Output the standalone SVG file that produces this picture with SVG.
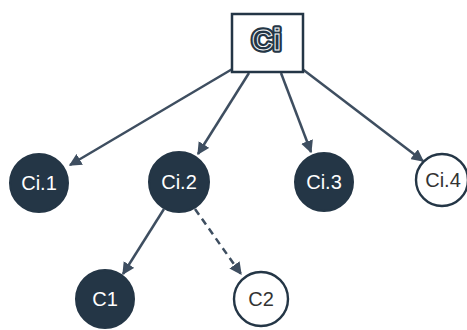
<svg xmlns="http://www.w3.org/2000/svg" width="467" height="330" viewBox="0 0 467 330">
<style>
.dark{fill:#243646;stroke:#243646;stroke-width:2}
.light{fill:#fff;stroke:#243646;stroke-width:2.4}
.lw{font-family:"Liberation Sans",Arial,sans-serif;font-size:20px;fill:#fff;text-anchor:middle}
.ld{font-family:"Liberation Sans",Arial,sans-serif;font-size:20px;fill:#333;text-anchor:middle}
.edge{stroke:#3e4e60;stroke-width:2.5;fill:none;marker-end:url(#ah)}
.dash{stroke-dasharray:7 5}
.ci{font-family:"Liberation Sans",Arial,sans-serif;font-weight:bold;font-size:29px;text-anchor:middle;fill:#243646}
</style>
<defs>
<marker id="ah" viewBox="0 0 10 10" refX="9" refY="5" markerWidth="5" markerHeight="5" orient="auto" markerUnits="strokeWidth">
<path d="M0,0 L10,5 L0,10 z" fill="#3e4e60"/>
</marker>
</defs>
<rect width="467" height="330" fill="#fff"/>
<g id="connectors">
<line class="edge" x1="234" y1="68" x2="70" y2="165"/>
<line class="edge" x1="249" y1="73" x2="198" y2="154"/>
<line class="edge" x1="281" y1="73" x2="311" y2="152"/>
<line class="edge" x1="301" y1="68" x2="423" y2="161"/>
<line class="edge" x1="164" y1="209" x2="123" y2="274"/>
<line class="edge dash" x1="195" y1="209" x2="241" y2="274"/>
</g>
<g id="ci">
<rect x="232" y="14" width="71" height="58" fill="#fff" stroke="#243646" stroke-width="2.5"/>
<text class="ci" x="266.5" y="50" stroke="#243646" stroke-width="5.5" stroke-linejoin="round">Ci</text>
<text class="ci" x="266.5" y="50" stroke="#fff" stroke-width="0.9">Ci</text>
</g>
<g id="ci1"><circle class="dark" cx="39" cy="183" r="29"/><text class="lw" x="39" y="190">Ci.1</text></g>
<g id="ci2"><circle class="dark" cx="179" cy="182" r="30"/><text class="lw" x="179" y="189">Ci.2</text></g>
<g id="ci3"><circle class="dark" cx="324" cy="182" r="29"/><text class="lw" x="324" y="189">Ci.3</text></g>
<g id="ci4"><circle class="light" cx="442" cy="180" r="26"/><text class="ld" x="443" y="187">Ci.4</text></g>
<g id="c1"><circle class="dark" cx="105" cy="299" r="29"/><text class="lw" x="105" y="306">C1</text></g>
<g id="c2"><circle class="light" cx="261" cy="299" r="27"/><text class="ld" x="261" y="306">C2</text></g>
</svg>
